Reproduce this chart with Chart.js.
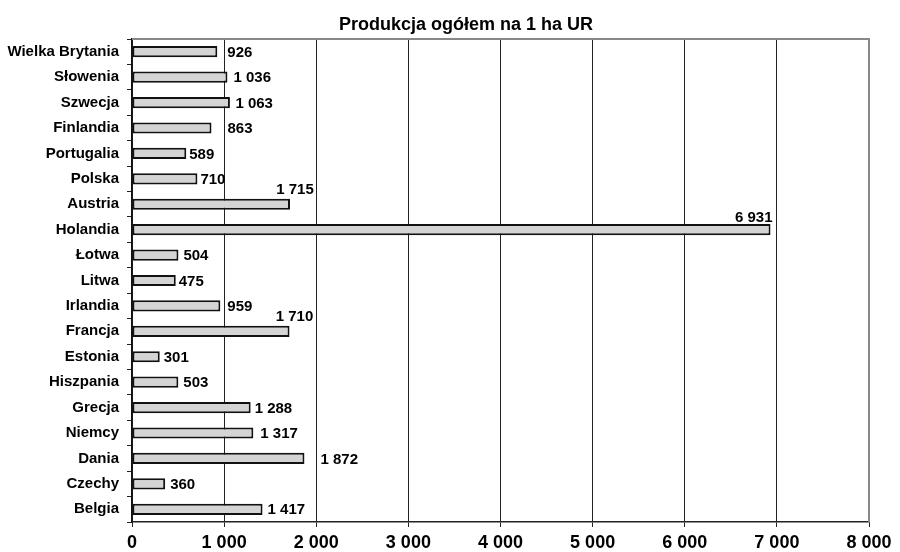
<!DOCTYPE html>
<html>
<head>
<meta charset="utf-8">
<script src="https://cdn.jsdelivr.net/npm/chart.js@4/dist/chart.umd.min.js"></script>
<style>
  html, body { margin: 0; padding: 0; background: #fff; }
  #wrap { width: 900px; height: 552px; }
</style>
</head>
<body>
<div id="wrap"><canvas id="prodChart"></canvas></div>
<script>
// dane z wykresu: produkcja ogółem na 1 ha UR
const chartTitle = 'Produkcja ogółem na 1 ha UR';
const countries = ['Wielka Brytania', 'Słowenia', 'Szwecja', 'Finlandia', 'Portugalia', 'Polska',
    'Austria', 'Holandia', 'Łotwa', 'Litwa', 'Irlandia', 'Francja', 'Estonia', 'Hiszpania',
    'Grecja', 'Niemcy', 'Dania', 'Czechy', 'Belgia'];
const production = [926, 1036, 1063, 863, 589, 710, 1715, 6931, 504, 475, 959, 1710, 301, 503,
    1288, 1317, 1872, 360, 1417];
const xTicks = [0, 1000, 2000, 3000, 4000, 5000, 6000, 7000, 8000];

const FONT = '"Liberation Sans", Arial, sans-serif';

// "1 000" style
function fmt(v) {
    return String(v).replace(/\B(?=(\d{3})+(?!\d))/g, ' ');
}

// where each value label sits (like in the original, some are above the bar)
const labelGap = [10, 6, 5.5, 16, 3, 3, 0, 0, 5, 3, 7, 0, 4, 5, 4, 7, 16, 5, 5];
const labelAbove = { 6: 'center', 7: 'right', 11: 'center' };

const valueLabels = {
    id: 'valueLabels',
    afterDatasetsDraw(chart) {
        const ctx = chart.ctx;
        const meta = chart.getDatasetMeta(0);
        ctx.save();
        ctx.font = 'bold 15px ' + FONT;
        ctx.fillStyle = '#000';
        meta.data.forEach((bar, i) => {
            const txt = fmt(production[i]);
            const top = bar.y - bar.height / 2;
            if (labelAbove[i] === 'center') {
                ctx.textAlign = 'center';
                ctx.textBaseline = 'alphabetic';
                ctx.fillText(txt, bar.x + 5, top - 4.5);
            } else if (labelAbove[i] === 'right') {
                ctx.textAlign = 'right';
                ctx.textBaseline = 'alphabetic';
                ctx.fillText(txt, bar.x + 2, top - 2.5);
            } else {
                ctx.textAlign = 'left';
                ctx.textBaseline = 'middle';
                ctx.fillText(txt, bar.x + labelGap[i], bar.y + 1);
            }
        });
        ctx.restore();
    }
};

// title + grey frame on top/right of plot
const frameAndTitle = {
    id: 'frameAndTitle',
    afterDraw(chart) {
        const { ctx, chartArea } = chart;
        ctx.save();
        ctx.strokeStyle = '#888';
        ctx.lineWidth = 2;
        ctx.beginPath();
        ctx.moveTo(chartArea.left, chartArea.top);
        ctx.lineTo(chartArea.right, chartArea.top);
        ctx.lineTo(chartArea.right, chartArea.bottom);
        ctx.stroke();
        ctx.font = 'bold 18px ' + FONT;
        ctx.fillStyle = '#000';
        ctx.textAlign = 'center';
        ctx.textBaseline = 'alphabetic';
        ctx.fillText(chartTitle, 466, 30);
        ctx.restore();
    }
};

new Chart(document.getElementById('prodChart'), {
    type: 'bar',
    data: {
        labels: countries,
        datasets: [{
            data: production,
            backgroundColor: '#d4d4d4',
            borderColor: '#111',
            borderWidth: 2,
            borderSkipped: false,
            categoryPercentage: 1,
            barPercentage: 0.44,
        }],
    },
    options: {
        indexAxis: 'y',
        responsive: true,
        maintainAspectRatio: false,
        animation: false,
        layout: { padding: { top: 39, right: 31, left: 0, bottom: 0 } },
        plugins: {
            legend: { display: false },
            tooltip: { enabled: false },
            title: { display: false },
        },
        scales: {
            x: {
                min: 0,
                max: 8000,
                afterBuildTicks: scale => { scale.ticks = xTicks.map(v => ({ value: v })); },
                afterFit: scale => { scale.height = 30; },
                ticks: {
                    callback: v => fmt(v),
                    color: '#000',
                    font: { family: FONT, size: 18, weight: 'bold' },
                    padding: 5,
                    maxRotation: 0,
                    autoSkip: false,
                },
                grid: { color: '#222', lineWidth: 1, tickLength: 5 },
                border: { color: '#222', width: 1.5 },
            },
            y: {
                afterFit: scale => { scale.width = 132; },
                ticks: {
                    color: '#000',
                    font: { family: FONT, size: 15, weight: 'bold' },
                    padding: 8,
                    autoSkip: false,
                },
                grid: { drawOnChartArea: false, color: '#222', tickLength: 5, offset: true },
                border: { color: '#111', width: 1.5 },
            },
        },
    },
    plugins: [valueLabels, frameAndTitle],
});
</script>
</body>
</html>
